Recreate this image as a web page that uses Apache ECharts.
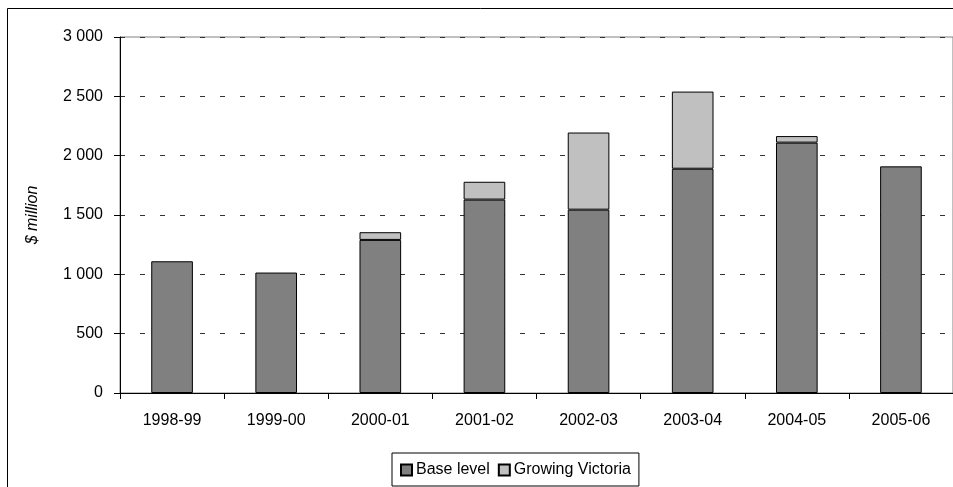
<!DOCTYPE html>
<html>
<head>
<meta charset="utf-8">
<script src="https://cdn.jsdelivr.net/npm/echarts@6/dist/echarts.min.js"></script>
<style>
html,body{margin:0;padding:0;background:#fff;}
#c{width:953px;height:487px;}
</style>
</head>
<body>
<div id="c"></div>
<script>
var categories = ['1998-99','1999-00','2000-01','2001-02','2002-03','2003-04','2004-05','2005-06'];
var baseLevel = [1110, 1015, 1290, 1630, 1545, 1890, 2110, 1910];
var growingVictoria = [0, 0, 65, 150, 650, 650, 55, 0];
var yTicks = [0, 500, 1000, 1500, 2000, 2500, 3000];
var yAxisTitle = '$ million';

function noZero(arr) { return arr.map(function (v) { return v === 0 ? '-' : v; }); }

var FONT = '"Liberation Sans", Arial, sans-serif';
var chart = echarts.init(document.getElementById('c'));
chart.setOption({
  animation: false,
  backgroundColor: '#fff',
  textStyle: {fontFamily: FONT, color: '#000'},
  grid: {left: 120, top: 37, width: 834, bottom: 94, show: true, borderColor: '#808080', borderWidth: 1, backgroundColor: 'transparent'},
  graphic: [
    {type: 'rect', shape: {x: 7.5, y: 8.5, width: 1000, height: 600}, style: {fill: 'none', stroke: '#000', lineWidth: 1}, z: -1}
  ],
  legend: {
    left: 392, bottom: 1,
    icon: 'rect', itemWidth: 11, itemHeight: 11, itemGap: 8,
    padding: [9, 8, 8, 8],
    borderColor: '#000', borderWidth: 1,
    textStyle: {fontFamily: FONT, fontSize: 16, color: '#000', padding: [0, 0, 0, -1]},
    data: ['Base level', 'Growing Victoria']
  },
  xAxis: {
    type: 'category', data: categories,
    axisLine: {lineStyle: {color: '#000', width: 1}},
    axisTick: {show: true, length: 6, lineStyle: {color: '#000'}},
    axisLabel: {fontFamily: FONT, fontSize: 16, color: '#000', margin: 20},
    splitLine: {show: false}
  },
  yAxis: {
    type: 'value', min: yTicks[0], max: yTicks[yTicks.length - 1], interval: 500,
    name: yAxisTitle, nameLocation: 'middle', nameGap: 79, nameRotate: 90,
    nameTextStyle: {fontFamily: FONT, fontSize: 16, fontStyle: 'italic', color: '#000'},
    axisLine: {show: true, lineStyle: {color: '#000', width: 1}},
    axisTick: {show: true, length: 6, lineStyle: {color: '#000'}},
    axisLabel: {fontFamily: FONT, fontSize: 16, color: '#000', margin: 17,
      formatter: function (v) { return v >= 1000 ? Math.floor(v / 1000) + ' ' + String(v % 1000).padStart(3, '0') : String(v); }},
    splitLine: {show: true, lineStyle: {color: '#333', type: [5, 15], width: 1}}
  },
  series: [
    {name: 'Base level', type: 'bar', stack: 's', data: noZero(baseLevel), barWidth: '40%',
     itemStyle: {color: '#808080', borderColor: '#000', borderWidth: 1}},
    {name: 'Growing Victoria', type: 'bar', stack: 's', data: noZero(growingVictoria), barWidth: '40%',
     itemStyle: {color: '#c0c0c0', borderColor: '#000', borderWidth: 1}}
  ]
});
</script>
</body>
</html>
